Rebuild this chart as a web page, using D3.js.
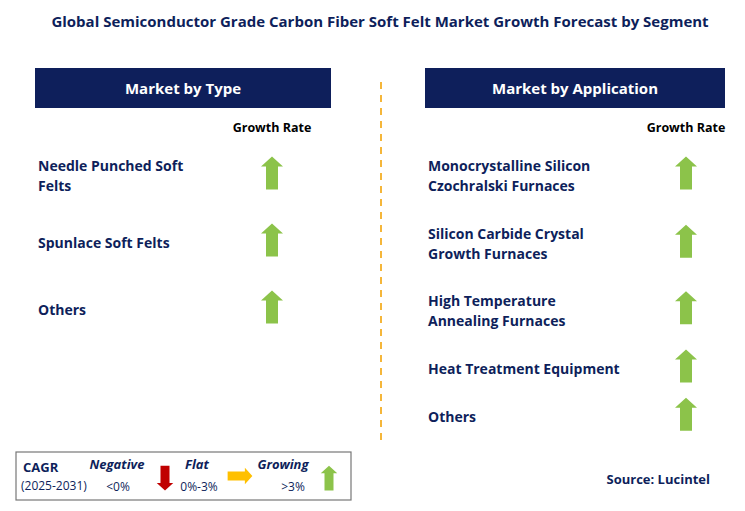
<!DOCTYPE html>
<html><head><meta charset="utf-8">
<script src="https://cdn.jsdelivr.net/npm/d3@7"></script>
<style>body{margin:0;background:#fff}svg{font-family:"Open Sans",Arial,sans-serif}</style>
</head><body><svg id="c" width="745" height="511"></svg>
<script>
const title = "Global Semiconductor Grade Carbon Fiber Soft Felt Market Growth Forecast by Segment";
const typeLabels = [["Needle Punched Soft","Felts"],["Spunlace Soft Felts"],["Others"]];
const typeGrowth = ["up","up","up"];
const appLabels = [["Monocrystalline Silicon","Czochralski Furnaces"],["Silicon Carbide Crystal","Growth Furnaces"],["High Temperature","Annealing Furnaces"],["Heat Treatment Equipment"],["Others"]];
const appGrowth = ["up","up","up","up","up"];
const typeRows = [0,1,2];
const appRows = [0,1.02,2.01,2.88,3.6];

const svg = d3.select("#c");
const navy = "#0e1f5b", green = "#8cc34a", red = "#c00000", amber = "#ffc000";
svg.append("text").attr("x",380).attr("y",27).attr("text-anchor","middle")
  .attr("font-size",15).attr("font-weight","bold").attr("fill",navy).text(title);

svg.append("line").attr("x1",381).attr("x2",381).attr("y1",82).attr("y2",440)
  .attr("stroke","#f5b63a").attr("stroke-width",2).attr("stroke-dasharray","7,6");

function arrow(g, cx, cy, dir, color, s=1){
  const w=11*s, sh=6*s, h=16.5*s, hh=10*s;
  let pts = [[0,-h],[w,-h+hh],[sh,-h+hh],[sh,h],[-sh,h],[-sh,-h+hh],[-w,-h+hh]];
  const rot = dir==="up"?0:dir==="down"?180:90;
  const r = rot*Math.PI/180;
  pts = pts.map(([x,y])=>[cx + x*Math.cos(r)-y*Math.sin(r), cy + x*Math.sin(r)+y*Math.cos(r)]);
  g.append("polygon").attr("points",pts.map(p=>p.join(",")).join(" ")).attr("fill",color);
}

function panel(x0, w, head, labels, growth, rows, arrowX){
  svg.append("rect").attr("x",x0).attr("y",68).attr("width",w).attr("height",40).attr("fill",navy);
  svg.append("text").attr("x",x0+w/2).attr("y",94).attr("text-anchor","middle").attr("fill","#fff")
    .attr("font-size",15).attr("font-weight","bold").text(head);
  svg.append("text").attr("x",arrowX).attr("y",132).attr("text-anchor","middle")
    .attr("font-size",12.5).attr("font-weight","bold").attr("fill","#000").text("Growth Rate");
  const y = d3.scaleLinear().domain([0,1]).range([176,243]);
  labels.forEach((lines,i)=>{
    const cy = y(rows[i]);
    const t = svg.append("text").attr("font-size",14).attr("font-weight","bold").attr("fill",navy);
    lines.forEach((l,j)=>t.append("tspan").attr("x",x0+3).attr("y",cy+5+(j-(lines.length-1)/2)*20).text(l));
    arrow(svg, arrowX, cy-3, growth[i], green);
  });
}
panel(35,296,"Market by Type",typeLabels,typeGrowth,typeRows,272);
panel(425,300,"Market by Application",appLabels,appGrowth,appRows,686);

// legend
svg.append("rect").attr("x",16).attr("y",452).attr("width",335).attr("height",48)
  .attr("fill","#fff").attr("stroke","#777").attr("stroke-width",1.2);
const lg = svg.append("g").attr("fill",navy);
lg.append("text").attr("x",23).attr("y",472).attr("font-size",13).attr("font-weight","bold").text("CAGR");
lg.append("text").attr("x",21).attr("y",490).attr("font-size",12).text("(2025-2031)");
[["Negative",117,"<0%",118],["Flat",197,"0%-3%",199],["Growing",283,">3%",293]].forEach(([a,x,b,x2])=>{
  lg.append("text").attr("x",x).attr("y",469).attr("text-anchor","middle").attr("font-size",13)
    .attr("font-weight","bold").attr("font-style","italic").text(a);
  lg.append("text").attr("x",x2).attr("y",491).attr("text-anchor","middle").attr("font-size",12).text(b);
});
arrow(svg,165,478,"down",red,0.75);
arrow(svg,240,476,"right",amber,0.75);
arrow(svg,329,478,"up",green,0.75);

svg.append("text").attr("x",710).attr("y",484).attr("text-anchor","end").attr("font-size",13)
  .attr("font-weight","bold").attr("fill",navy).text("Source: Lucintel");
</script></body></html>
